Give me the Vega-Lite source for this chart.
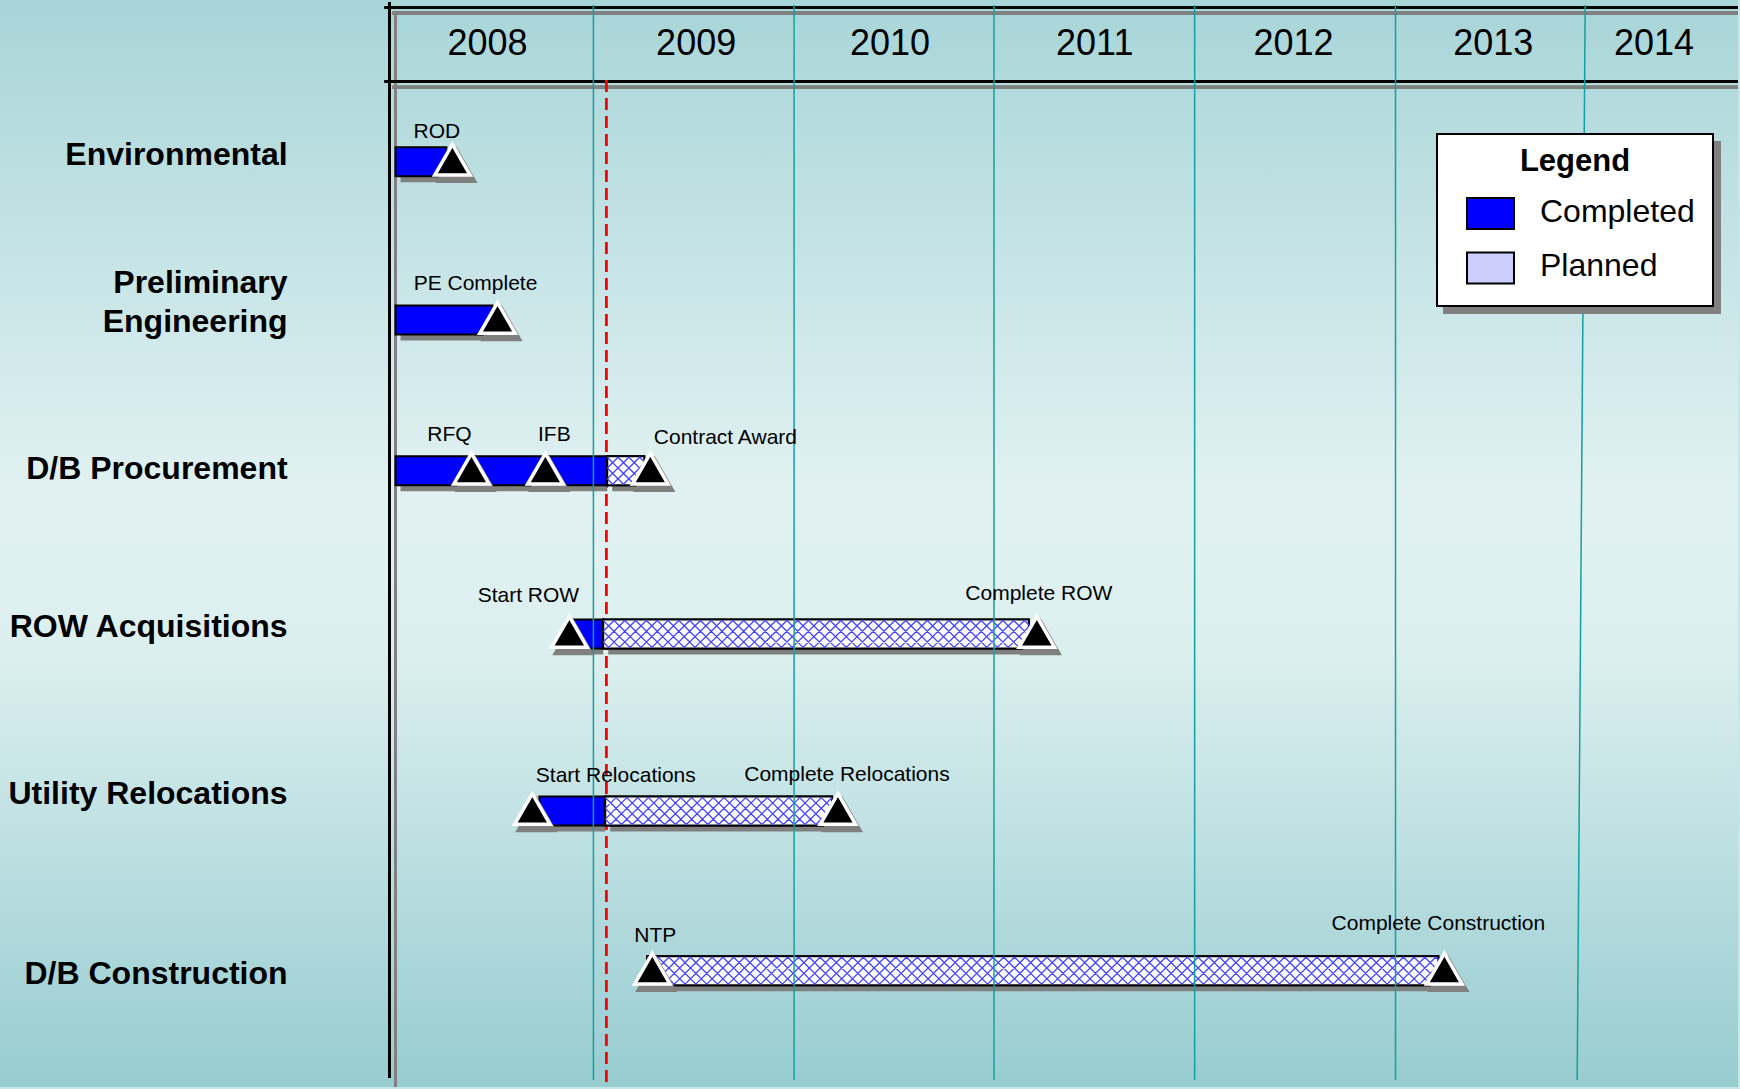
{
  "$schema": "https://vega.github.io/schema/vega-lite/v6.json",
  "width": 1740,
  "height": 1089,
  "autosize": {"type": "fit", "contains": "padding"},
  "padding": 0,
  "background": "#c8e6e8",
  "view": {
    "stroke": null,
    "fill": {"gradient": "linear", "x1": 0, "y1": 0, "x2": 0, "y2": 1,
      "stops": [
        {"offset": 0, "color": "#a8d5d8"},
        {"offset": 0.45, "color": "#e1f1f2"},
        {"offset": 0.6, "color": "#dcefef"},
        {"offset": 1, "color": "#97ccd1"}
      ]}
  },
  "config": {
    "font": "Liberation Sans",
    "legend": {"strokeWidth": 2}
  },
  "datasets": {
    "segments": [
      {"task": "Environmental", "status": "Completed", "t": 2008.0, "t2": 2008.254, "r": 1.0},
      {"task": "Preliminary Engineering", "status": "Completed", "t": 2008.0, "t2": 2008.484, "r": 1.978},
      {"task": "D/B Procurement", "status": "Completed", "t": 2008.0, "t2": 2009.057, "r": 2.91},
      {"task": "D/B Procurement", "status": "Planned", "t": 2009.057, "t2": 2009.242, "r": 2.91},
      {"task": "ROW Acquisitions", "status": "Completed", "t": 2008.878, "t2": 2009.037, "r": 3.919},
      {"task": "ROW Acquisitions", "status": "Planned", "t": 2009.037, "t2": 2011.162, "r": 3.919},
      {"task": "Utility Relocations", "status": "Completed", "t": 2008.718, "t2": 2009.047, "r": 5.014},
      {"task": "Utility Relocations", "status": "Planned", "t": 2009.047, "t2": 2010.18, "r": 5.014},
      {"task": "D/B Construction", "status": "Planned", "t": 2009.257, "t2": 2013.207, "r": 6.001}
    ],
    "milestones": [
      {"task": "Environmental", "milestone": "ROD", "t": 2008.284, "r": 1.0},
      {"task": "Preliminary Engineering", "milestone": "PE  Complete", "t": 2008.509, "r": 1.978},
      {"task": "D/B Procurement", "milestone": "RFQ", "t": 2008.379, "r": 2.91},
      {"task": "D/B Procurement", "milestone": "IFB", "t": 2008.748, "r": 2.91},
      {"task": "D/B Procurement", "milestone": "Contract Award", "t": 2009.272, "r": 2.91},
      {"task": "ROW Acquisitions", "milestone": "Start ROW", "t": 2008.868, "r": 3.919},
      {"task": "ROW Acquisitions", "milestone": "Complete ROW", "t": 2011.202, "r": 3.919},
      {"task": "Utility Relocations", "milestone": "Start Relocations", "t": 2008.683, "r": 5.014},
      {"task": "Utility Relocations", "milestone": "Complete Relocations", "t": 2010.209, "r": 5.014},
      {"task": "D/B Construction", "milestone": "NTP", "t": 2009.282, "r": 6.001},
      {"task": "D/B Construction", "milestone": "Complete Construction", "t": 2013.237, "r": 6.001}
    ],
    "tasks": [
      {"task": "Environmental", "r": 1.0},
      {"task": "Preliminary Engineering", "r": 1.978},
      {"task": "D/B Procurement", "r": 2.91},
      {"task": "ROW Acquisitions", "r": 3.919},
      {"task": "Utility Relocations", "r": 5.014},
      {"task": "D/B Construction", "r": 6.001}
    ],
    "years": [
      {"year": "2008", "t": 2008.459},
      {"year": "2009", "t": 2009.501},
      {"year": "2010", "t": 2010.469},
      {"year": "2011", "t": 2011.491},
      {"year": "2012", "t": 2012.484},
      {"year": "2013", "t": 2013.481},
      {"year": "2014", "t": 2014.284}
    ],
    "grid": [
      {"t": 2008.988, "t2": 2008.988},
      {"t": 2009.99, "t2": 2009.99},
      {"t": 2010.988, "t2": 2010.988},
      {"t": 2011.99, "t2": 2011.99},
      {"t": 2012.993, "t2": 2012.993},
      {"t": 2013.94, "t2": 2013.9}
    ]
  },
  "layer": [
    {
      "data": {"name": "grid"},
      "mark": {"type": "rule", "color": "#808080", "strokeWidth": 3},
      "encoding": {
        "x": {"datum": 2007.985, "type": "quantitative", "scale": {"domain": [2006.025, 2014.703], "nice": false, "zero": false, "padding": 0}, "axis": null},
        "x2": {"datum": 2014.703},
        "y": {"datum": 0.08, "type": "quantitative", "scale": {"domain": [0, 6.72], "nice": false, "zero": false, "reverse": true, "padding": 0}, "axis": null}
      }
    },
    {
      "data": {"name": "grid"},
      "mark": {"type": "rule", "color": "#808080", "strokeWidth": 3},
      "encoding": {
        "x": {"datum": 2007.985, "type": "quantitative", "scale": {"domain": [2006.025, 2014.703], "nice": false, "zero": false, "padding": 0}, "axis": null},
        "x2": {"datum": 2014.703},
        "y": {"datum": 0.539, "type": "quantitative", "scale": {"domain": [0, 6.72], "nice": false, "zero": false, "reverse": true, "padding": 0}, "axis": null}
      }
    },
    {
      "data": {"name": "grid"},
      "mark": {"type": "rule", "color": "#808080", "strokeWidth": 2.5},
      "encoding": {
        "x": {"datum": 2008.0, "type": "quantitative", "scale": {"domain": [2006.025, 2014.703], "nice": false, "zero": false, "padding": 0}, "axis": null},
        "y": {"datum": 0.074, "type": "quantitative", "scale": {"domain": [0, 6.72], "nice": false, "zero": false, "reverse": true, "padding": 0}, "axis": null},
        "y2": {"datum": 6.72}
      }
    },
    {
      "data": {"name": "grid"},
      "mark": {"type": "rule", "color": "#000000", "strokeWidth": 2},
      "encoding": {
        "x": {"datum": 2007.945, "type": "quantitative", "scale": {"domain": [2006.025, 2014.703], "nice": false, "zero": false, "padding": 0}, "axis": null},
        "x2": {"datum": 2014.703},
        "y": {"datum": 0.046, "type": "quantitative", "scale": {"domain": [0, 6.72], "nice": false, "zero": false, "reverse": true, "padding": 0}, "axis": null}
      }
    },
    {
      "data": {"name": "grid"},
      "mark": {"type": "rule", "color": "#000000", "strokeWidth": 2},
      "encoding": {
        "x": {"datum": 2007.945, "type": "quantitative", "scale": {"domain": [2006.025, 2014.703], "nice": false, "zero": false, "padding": 0}, "axis": null},
        "x2": {"datum": 2014.703},
        "y": {"datum": 0.504, "type": "quantitative", "scale": {"domain": [0, 6.72], "nice": false, "zero": false, "reverse": true, "padding": 0}, "axis": null}
      }
    },
    {
      "data": {"name": "grid"},
      "mark": {"type": "rule", "color": "#000000", "strokeWidth": 2.5},
      "encoding": {
        "x": {"datum": 2007.97, "type": "quantitative", "scale": {"domain": [2006.025, 2014.703], "nice": false, "zero": false, "padding": 0}, "axis": null},
        "y": {"datum": 0.012, "type": "quantitative", "scale": {"domain": [0, 6.72], "nice": false, "zero": false, "reverse": true, "padding": 0}, "axis": null},
        "y2": {"datum": 6.665}
      }
    },
    {
      "data": {"name": "grid"},
      "mark": {"type": "rule", "color": "#ff0000", "strokeWidth": 2, "strokeDash": [12, 6]},
      "encoding": {
        "x": {"datum": 2009.052, "type": "quantitative", "scale": {"domain": [2006.025, 2014.703], "nice": false, "zero": false, "padding": 0}, "axis": null},
        "y": {"datum": 0.494, "type": "quantitative", "scale": {"domain": [0, 6.72], "nice": false, "zero": false, "reverse": true, "padding": 0}, "axis": null},
        "y2": {"datum": 6.72}
      }
    },
    {
      "data": {"name": "segments"},
      "mark": {"type": "bar", "orient": "horizontal", "height": 29, "color": "#808080", "xOffset": 5, "yOffset": 6},
      "encoding": {
        "x": {"field": "t", "type": "quantitative", "scale": {"domain": [2006.025, 2014.703], "nice": false, "zero": false, "padding": 0}, "axis": null},
        "x2": {"field": "t2"},
        "y": {"field": "r", "type": "quantitative", "scale": {"domain": [0, 6.72], "nice": false, "zero": false, "reverse": true, "padding": 0}, "axis": null}
      }
    },
    {
      "data": {"name": "segments"},
      "mark": {"type": "bar", "orient": "horizontal", "height": 29, "stroke": "#000000", "strokeWidth": 2, "opacity": 1},
      "encoding": {
        "x": {"field": "t", "type": "quantitative", "scale": {"domain": [2006.025, 2014.703], "nice": false, "zero": false, "padding": 0}, "axis": null},
        "x2": {"field": "t2"},
        "y": {"field": "r", "type": "quantitative", "scale": {"domain": [0, 6.72], "nice": false, "zero": false, "reverse": true, "padding": 0}, "axis": null},
        "color": {
          "field": "status", "type": "nominal",
          "scale": {"domain": ["Completed", "Planned"], "range": ["#0000ff", "#cbcdfb"]},
          "legend": {
            "title": "Legend", "orient": "none", "legendX": 1437, "legendY": 134, "direction": "vertical", "zindex": 2,
            "padding": 18, "fillColor": "#ffffff", "strokeColor": "#000000",
            "titleFont": "Liberation Sans", "titleFontSize": 31, "titleFontWeight": "bold", "titleColor": "#000000",
            "titleAnchor": "middle", "titlePadding": 14, "titleBaseline": "line-top", "titleLineHeight": 20,
            "labelFont": "Liberation Sans", "labelFontSize": 32, "labelColor": "#000000", "labelOffset": 36, "labelBaseline": "alphabetic",
            "symbolType": "M-0.532,-1L1.468,-1L1.468,0.319L-0.532,0.319Z", "symbolSize": 2209,
            "symbolStrokeColor": "#000000", "symbolStrokeWidth": 2, "symbolOpacity": 1,
            "rowPadding": 15.5
          }
        }
      }
    },
    {
      "data": {"name": "segments"},
      "mark": {"type": "point", "opacity": 0, "size": 4},
      "encoding": {
        "x": {"field": "t", "type": "quantitative", "scale": {"domain": [2006.025, 2014.703], "nice": false, "zero": false, "padding": 0}, "axis": null},
        "y": {"field": "r", "type": "quantitative", "scale": {"domain": [0, 6.72], "nice": false, "zero": false, "reverse": true, "padding": 0}, "axis": null},
        "shape": {
          "field": "status", "type": "nominal",
          "scale": {"range": ["square", "square"]},
          "legend": {
            "title": null, "orient": "none", "legendX": 1444, "legendY": 142, "direction": "horizontal", "columns": 2, "zindex": 0,
            "padding": 33, "columnPadding": 0, "rowPadding": 0, "fillColor": "#808080", "strokeColor": "#808080",
            "labelExpr": "''", "labelOffset": 0, "labelFontSize": 8,
            "symbolSize": 11025, "symbolFillColor": "#808080", "symbolStrokeColor": "#808080", "symbolStrokeWidth": 0, "symbolOpacity": 1
          }
        }
      }
    },
    {
      "data": {"name": "segments"},
      "transform": [{"filter": {"field": "status", "equal": "Planned"}}],
      "mark": {"type": "bar", "orient": "horizontal", "height": 29, "fill": "#ffffff", "stroke": "#000000", "strokeWidth": 2, "opacity": 1},
      "encoding": {
        "x": {"field": "t", "type": "quantitative", "scale": {"domain": [2006.025, 2014.703], "nice": false, "zero": false, "padding": 0}, "axis": null},
        "x2": {"field": "t2"},
        "y": {"field": "r", "type": "quantitative", "scale": {"domain": [0, 6.72], "nice": false, "zero": false, "reverse": true, "padding": 0}, "axis": null}
      }
    },
    {
      "data": {"name": "segments"},
      "transform": [{"filter": "datum.status === 'Planned' && datum.task === 'D/B Procurement'"}],
      "mark": {"type": "point", "filled": false, "opacity": 1, "size": 4, "color": "#4444ff", "strokeWidth": 1.3,
        "shape": "M0,-13.5l27,27l10.1,-10.1M0,-2.7l10.8,-10.8l26.3,26.3M0,8.1l21.6,-21.6l15.5,15.5M0,8.1l5.4,5.4l27,-27l4.7,4.7M0,-2.7l16.2,16.2l20.9,-20.9"},
      "encoding": {
        "x": {"field": "t", "type": "quantitative", "scale": {"domain": [2006.025, 2014.703], "nice": false, "zero": false, "padding": 0}, "axis": null},
        "y": {"field": "r", "type": "quantitative", "scale": {"domain": [0, 6.72], "nice": false, "zero": false, "reverse": true, "padding": 0}, "axis": null}
      }
    },
    {
      "data": {"name": "segments"},
      "transform": [{"filter": "datum.status === 'Planned' && datum.task === 'ROW Acquisitions'"}],
      "mark": {"type": "point", "filled": false, "opacity": 1, "size": 4, "color": "#4444ff", "strokeWidth": 1.3,
        "shape": "M0,-13.5l27,27l27,-27l27,27l27,-27l27,27l27,-27l27,27l27,-27l27,27l27,-27l27,27l27,-27l27,27l27,-27l27,27l21.1,-21.1M0,-2.7l10.8,-10.8l27,27l27,-27l27,27l27,-27l27,27l27,-27l27,27l27,-27l27,27l27,-27l27,27l27,-27l27,27l27,-27l27,27l10.3,-10.3M0,8.1l21.6,-21.6l27,27l27,-27l27,27l27,-27l27,27l27,-27l27,27l27,-27l27,27l27,-27l27,27l27,-27l27,27l27,-27l26.5,26.5M0,8.1l5.4,5.4l27,-27l27,27l27,-27l27,27l27,-27l27,27l27,-27l27,27l27,-27l27,27l27,-27l27,27l27,-27l27,27l27,-27l15.7,15.7M0,-2.7l16.2,16.2l27,-27l27,27l27,-27l27,27l27,-27l27,27l27,-27l27,27l27,-27l27,27l27,-27l27,27l27,-27l27,27l27,-27l4.9,4.9"},
      "encoding": {
        "x": {"field": "t", "type": "quantitative", "scale": {"domain": [2006.025, 2014.703], "nice": false, "zero": false, "padding": 0}, "axis": null},
        "y": {"field": "r", "type": "quantitative", "scale": {"domain": [0, 6.72], "nice": false, "zero": false, "reverse": true, "padding": 0}, "axis": null}
      }
    },
    {
      "data": {"name": "segments"},
      "transform": [{"filter": "datum.status === 'Planned' && datum.task === 'Utility Relocations'"}],
      "mark": {"type": "point", "filled": false, "opacity": 1, "size": 4, "color": "#4444ff", "strokeWidth": 1.3,
        "shape": "M0,-13.5l27,27l27,-27l27,27l27,-27l27,27l27,-27l27,27l27,-27l11.2,11.2M0,-2.7l10.8,-10.8l27,27l27,-27l27,27l27,-27l27,27l27,-27l27,27l27,-27M0,8.1l21.6,-21.6l27,27l27,-27l27,27l27,-27l27,27l27,-27l27,27l16.6,-16.6M0,8.1l5.4,5.4l27,-27l27,27l27,-27l27,27l27,-27l27,27l27,-27l27,27l5.8,-5.8M0,-2.7l16.2,16.2l27,-27l27,27l27,-27l27,27l27,-27l27,27l27,-27l22,22"},
      "encoding": {
        "x": {"field": "t", "type": "quantitative", "scale": {"domain": [2006.025, 2014.703], "nice": false, "zero": false, "padding": 0}, "axis": null},
        "y": {"field": "r", "type": "quantitative", "scale": {"domain": [0, 6.72], "nice": false, "zero": false, "reverse": true, "padding": 0}, "axis": null}
      }
    },
    {
      "data": {"name": "segments"},
      "transform": [{"filter": "datum.status === 'Planned' && datum.task === 'D/B Construction'"}],
      "mark": {"type": "point", "filled": false, "opacity": 1, "size": 4, "color": "#4444ff", "strokeWidth": 1.3,
        "shape": "M0,-13.5l27,27l27,-27l27,27l27,-27l27,27l27,-27l27,27l27,-27l27,27l27,-27l27,27l27,-27l27,27l27,-27l27,27l27,-27l27,27l27,-27l27,27l27,-27l27,27l27,-27l27,27l27,-27l27,27l27,-27l27,27l27,-27l27,27l9,-9M0,-2.7l10.8,-10.8l27,27l27,-27l27,27l27,-27l27,27l27,-27l27,27l27,-27l27,27l27,-27l27,27l27,-27l27,27l27,-27l27,27l27,-27l27,27l27,-27l27,27l27,-27l27,27l27,-27l27,27l27,-27l27,27l27,-27l27,27l27,-27l25.2,25.2M0,8.1l21.6,-21.6l27,27l27,-27l27,27l27,-27l27,27l27,-27l27,27l27,-27l27,27l27,-27l27,27l27,-27l27,27l27,-27l27,27l27,-27l27,27l27,-27l27,27l27,-27l27,27l27,-27l27,27l27,-27l27,27l27,-27l27,27l27,-27l14.4,14.4M0,8.1l5.4,5.4l27,-27l27,27l27,-27l27,27l27,-27l27,27l27,-27l27,27l27,-27l27,27l27,-27l27,27l27,-27l27,27l27,-27l27,27l27,-27l27,27l27,-27l27,27l27,-27l27,27l27,-27l27,27l27,-27l27,27l27,-27l27,27l27,-27l3.6,3.6M0,-2.7l16.2,16.2l27,-27l27,27l27,-27l27,27l27,-27l27,27l27,-27l27,27l27,-27l27,27l27,-27l27,27l27,-27l27,27l27,-27l27,27l27,-27l27,27l27,-27l27,27l27,-27l27,27l27,-27l27,27l27,-27l27,27l27,-27l27,27l19.8,-19.8"},
      "encoding": {
        "x": {"field": "t", "type": "quantitative", "scale": {"domain": [2006.025, 2014.703], "nice": false, "zero": false, "padding": 0}, "axis": null},
        "y": {"field": "r", "type": "quantitative", "scale": {"domain": [0, 6.72], "nice": false, "zero": false, "reverse": true, "padding": 0}, "axis": null}
      }
    },
    {
      "data": {"name": "grid"},
      "mark": {"type": "rule", "color": "#12a0a0", "strokeWidth": 1.5},
      "encoding": {
        "x": {"field": "t", "type": "quantitative", "scale": {"domain": [2006.025, 2014.703], "nice": false, "zero": false, "padding": 0}, "axis": null},
        "x2": {"field": "t2"},
        "y": {"datum": 0.031, "type": "quantitative", "scale": {"domain": [0, 6.72], "nice": false, "zero": false, "reverse": true, "padding": 0}, "axis": null},
        "y2": {"datum": 6.677}
      }
    },
    {
      "data": {"name": "milestones"},
      "mark": {"type": "point", "shape": "triangle-up", "size": 1250, "filled": true, "fill": "#808080", "stroke": "#808080", "strokeWidth": 4, "opacity": 1, "xOffset": 4, "yOffset": 4},
      "encoding": {
        "x": {"field": "t", "type": "quantitative", "scale": {"domain": [2006.025, 2014.703], "nice": false, "zero": false, "padding": 0}, "axis": null},
        "y": {"field": "r", "type": "quantitative", "scale": {"domain": [0, 6.72], "nice": false, "zero": false, "reverse": true, "padding": 0}, "axis": null}
      }
    },
    {
      "data": {"name": "milestones"},
      "mark": {"type": "point", "shape": "triangle-up", "size": 1250, "filled": true, "fill": "#000000", "stroke": "#ffffff", "strokeWidth": 3.5, "opacity": 1, "yOffset": -2},
      "encoding": {
        "x": {"field": "t", "type": "quantitative", "scale": {"domain": [2006.025, 2014.703], "nice": false, "zero": false, "padding": 0}, "axis": null},
        "y": {"field": "r", "type": "quantitative", "scale": {"domain": [0, 6.72], "nice": false, "zero": false, "reverse": true, "padding": 0}, "axis": null}
      }
    },
    {
      "data": {"name": "milestones"},
      "transform": [{"filter": {"field": "milestone", "oneOf": ["RFQ", "PE  Complete"]}}],
      "mark": {"type": "text", "font": "Liberation Sans", "fontSize": 21, "color": "#000000", "align": "center", "baseline": "middle", "dx": -22, "dy": -35.5},
      "encoding": {
        "x": {"field": "t", "type": "quantitative", "scale": {"domain": [2006.025, 2014.703], "nice": false, "zero": false, "padding": 0}, "axis": null},
        "y": {"field": "r", "type": "quantitative", "scale": {"domain": [0, 6.72], "nice": false, "zero": false, "reverse": true, "padding": 0}, "axis": null},
        "text": {"field": "milestone"}
      }
    },
    {
      "data": {"name": "milestones"},
      "transform": [{"filter": {"field": "milestone", "oneOf": ["IFB", "Complete Relocations"]}}],
      "mark": {"type": "text", "font": "Liberation Sans", "fontSize": 21, "color": "#000000", "align": "center", "baseline": "middle", "dx": 9, "dy": -36},
      "encoding": {
        "x": {"field": "t", "type": "quantitative", "scale": {"domain": [2006.025, 2014.703], "nice": false, "zero": false, "padding": 0}, "axis": null},
        "y": {"field": "r", "type": "quantitative", "scale": {"domain": [0, 6.72], "nice": false, "zero": false, "reverse": true, "padding": 0}, "axis": null},
        "text": {"field": "milestone"}
      }
    },
    {
      "data": {"name": "milestones"},
      "transform": [{"filter": {"field": "milestone", "oneOf": ["Complete ROW"]}}],
      "mark": {"type": "text", "font": "Liberation Sans", "fontSize": 21, "color": "#000000", "align": "center", "baseline": "middle", "dx": 2, "dy": -40},
      "encoding": {
        "x": {"field": "t", "type": "quantitative", "scale": {"domain": [2006.025, 2014.703], "nice": false, "zero": false, "padding": 0}, "axis": null},
        "y": {"field": "r", "type": "quantitative", "scale": {"domain": [0, 6.72], "nice": false, "zero": false, "reverse": true, "padding": 0}, "axis": null},
        "text": {"field": "milestone"}
      }
    },
    {
      "data": {"name": "milestones"},
      "transform": [{"filter": {"field": "milestone", "oneOf": ["NTP"]}}],
      "mark": {"type": "text", "font": "Liberation Sans", "fontSize": 21, "color": "#000000", "align": "center", "baseline": "middle", "dx": 3, "dy": -34.5},
      "encoding": {
        "x": {"field": "t", "type": "quantitative", "scale": {"domain": [2006.025, 2014.703], "nice": false, "zero": false, "padding": 0}, "axis": null},
        "y": {"field": "r", "type": "quantitative", "scale": {"domain": [0, 6.72], "nice": false, "zero": false, "reverse": true, "padding": 0}, "axis": null},
        "text": {"field": "milestone"}
      }
    },
    {
      "data": {"name": "milestones"},
      "transform": [{"filter": {"field": "milestone", "oneOf": ["Contract Award"]}}],
      "mark": {"type": "text", "font": "Liberation Sans", "fontSize": 21, "color": "#000000", "align": "left", "baseline": "middle", "dx": 3.5, "dy": -33},
      "encoding": {
        "x": {"field": "t", "type": "quantitative", "scale": {"domain": [2006.025, 2014.703], "nice": false, "zero": false, "padding": 0}, "axis": null},
        "y": {"field": "r", "type": "quantitative", "scale": {"domain": [0, 6.72], "nice": false, "zero": false, "reverse": true, "padding": 0}, "axis": null},
        "text": {"field": "milestone"}
      }
    },
    {
      "data": {"name": "milestones"},
      "transform": [{"filter": {"field": "milestone", "oneOf": ["Start Relocations"]}}],
      "mark": {"type": "text", "font": "Liberation Sans", "fontSize": 21, "color": "#000000", "align": "left", "baseline": "middle", "dx": 3.5, "dy": -35},
      "encoding": {
        "x": {"field": "t", "type": "quantitative", "scale": {"domain": [2006.025, 2014.703], "nice": false, "zero": false, "padding": 0}, "axis": null},
        "y": {"field": "r", "type": "quantitative", "scale": {"domain": [0, 6.72], "nice": false, "zero": false, "reverse": true, "padding": 0}, "axis": null},
        "text": {"field": "milestone"}
      }
    },
    {
      "data": {"name": "milestones"},
      "transform": [{"filter": {"field": "milestone", "oneOf": ["Start ROW"]}}],
      "mark": {"type": "text", "font": "Liberation Sans", "fontSize": 21, "color": "#000000", "align": "center", "baseline": "middle", "dx": -41, "dy": -38},
      "encoding": {
        "x": {"field": "t", "type": "quantitative", "scale": {"domain": [2006.025, 2014.703], "nice": false, "zero": false, "padding": 0}, "axis": null},
        "y": {"field": "r", "type": "quantitative", "scale": {"domain": [0, 6.72], "nice": false, "zero": false, "reverse": true, "padding": 0}, "axis": null},
        "text": {"field": "milestone"}
      }
    },
    {
      "data": {"name": "milestones"},
      "transform": [{"filter": {"field": "milestone", "oneOf": ["Complete Construction"]}}],
      "mark": {"type": "text", "font": "Liberation Sans", "fontSize": 21, "color": "#000000", "align": "center", "baseline": "middle", "dx": -6, "dy": -46.5},
      "encoding": {
        "x": {"field": "t", "type": "quantitative", "scale": {"domain": [2006.025, 2014.703], "nice": false, "zero": false, "padding": 0}, "axis": null},
        "y": {"field": "r", "type": "quantitative", "scale": {"domain": [0, 6.72], "nice": false, "zero": false, "reverse": true, "padding": 0}, "axis": null},
        "text": {"field": "milestone"}
      }
    },
    {
      "data": {"name": "milestones"},
      "transform": [{"filter": {"field": "milestone", "oneOf": ["ROD"]}}],
      "mark": {"type": "text", "font": "Liberation Sans", "fontSize": 21, "color": "#000000", "align": "center", "baseline": "middle", "dx": -15.5, "dy": -29.5},
      "encoding": {
        "x": {"field": "t", "type": "quantitative", "scale": {"domain": [2006.025, 2014.703], "nice": false, "zero": false, "padding": 0}, "axis": null},
        "y": {"field": "r", "type": "quantitative", "scale": {"domain": [0, 6.72], "nice": false, "zero": false, "reverse": true, "padding": 0}, "axis": null},
        "text": {"field": "milestone"}
      }
    },
    {
      "data": {"name": "tasks"},
      "transform": [{"filter": {"field": "task", "oneOf": ["Environmental"]}}],
      "mark": {"type": "text", "font": "Liberation Sans", "fontSize": 32, "fontWeight": "bold", "color": "#000000", "align": "right", "baseline": "middle", "dy": -7.2},
      "encoding": {
        "x": {"datum": 2007.461, "type": "quantitative", "scale": {"domain": [2006.025, 2014.703], "nice": false, "zero": false, "padding": 0}, "axis": null},
        "y": {"field": "r", "type": "quantitative", "scale": {"domain": [0, 6.72], "nice": false, "zero": false, "reverse": true, "padding": 0}, "axis": null},
        "text": {"field": "task"}
      }
    },
    {
      "data": {"name": "tasks"},
      "transform": [{"filter": {"field": "task", "oneOf": ["ROW Acquisitions"]}}],
      "mark": {"type": "text", "font": "Liberation Sans", "fontSize": 32, "fontWeight": "bold", "color": "#000000", "align": "right", "baseline": "middle", "dy": -7},
      "encoding": {
        "x": {"datum": 2007.461, "type": "quantitative", "scale": {"domain": [2006.025, 2014.703], "nice": false, "zero": false, "padding": 0}, "axis": null},
        "y": {"field": "r", "type": "quantitative", "scale": {"domain": [0, 6.72], "nice": false, "zero": false, "reverse": true, "padding": 0}, "axis": null},
        "text": {"field": "task"}
      }
    },
    {
      "data": {"name": "tasks"},
      "transform": [{"filter": {"field": "task", "oneOf": ["D/B Procurement"]}}],
      "mark": {"type": "text", "font": "Liberation Sans", "fontSize": 32, "fontWeight": "bold", "color": "#000000", "align": "right", "baseline": "middle", "dy": -2},
      "encoding": {
        "x": {"datum": 2007.461, "type": "quantitative", "scale": {"domain": [2006.025, 2014.703], "nice": false, "zero": false, "padding": 0}, "axis": null},
        "y": {"field": "r", "type": "quantitative", "scale": {"domain": [0, 6.72], "nice": false, "zero": false, "reverse": true, "padding": 0}, "axis": null},
        "text": {"field": "task"}
      }
    },
    {
      "data": {"name": "tasks"},
      "transform": [{"filter": {"field": "task", "oneOf": ["D/B Construction"]}}],
      "mark": {"type": "text", "font": "Liberation Sans", "fontSize": 32, "fontWeight": "bold", "color": "#000000", "align": "right", "baseline": "middle", "dy": 3},
      "encoding": {
        "x": {"datum": 2007.461, "type": "quantitative", "scale": {"domain": [2006.025, 2014.703], "nice": false, "zero": false, "padding": 0}, "axis": null},
        "y": {"field": "r", "type": "quantitative", "scale": {"domain": [0, 6.72], "nice": false, "zero": false, "reverse": true, "padding": 0}, "axis": null},
        "text": {"field": "task"}
      }
    },
    {
      "data": {"name": "tasks"},
      "transform": [{"filter": {"field": "task", "oneOf": ["Utility Relocations"]}}],
      "mark": {"type": "text", "font": "Liberation Sans", "fontSize": 32, "fontWeight": "bold", "color": "#000000", "align": "right", "baseline": "middle", "dy": -17},
      "encoding": {
        "x": {"datum": 2007.461, "type": "quantitative", "scale": {"domain": [2006.025, 2014.703], "nice": false, "zero": false, "padding": 0}, "axis": null},
        "y": {"field": "r", "type": "quantitative", "scale": {"domain": [0, 6.72], "nice": false, "zero": false, "reverse": true, "padding": 0}, "axis": null},
        "text": {"field": "task"}
      }
    },
    {
      "data": {"name": "tasks"},
      "transform": [{"filter": {"field": "task", "oneOf": ["Preliminary Engineering"]}}],
      "mark": {"type": "text", "font": "Liberation Sans", "fontSize": 32, "fontWeight": "bold", "color": "#000000", "align": "right", "baseline": "middle", "dy": -37.3, "lineBreak": " ", "lineHeight": 39},
      "encoding": {
        "x": {"datum": 2007.461, "type": "quantitative", "scale": {"domain": [2006.025, 2014.703], "nice": false, "zero": false, "padding": 0}, "axis": null},
        "y": {"field": "r", "type": "quantitative", "scale": {"domain": [0, 6.72], "nice": false, "zero": false, "reverse": true, "padding": 0}, "axis": null},
        "text": {"field": "task"}
      }
    },
    {
      "data": {"name": "years"},
      "mark": {"type": "text", "font": "Liberation Sans", "fontSize": 36, "color": "#000000", "align": "center", "baseline": "middle"},
      "encoding": {
        "x": {"field": "t", "type": "quantitative", "scale": {"domain": [2006.025, 2014.703], "nice": false, "zero": false, "padding": 0}, "axis": null},
        "y": {"datum": 0.2734, "type": "quantitative", "scale": {"domain": [0, 6.72], "nice": false, "zero": false, "reverse": true, "padding": 0}, "axis": null},
        "text": {"field": "year"}
      }
    }
  ]
}
